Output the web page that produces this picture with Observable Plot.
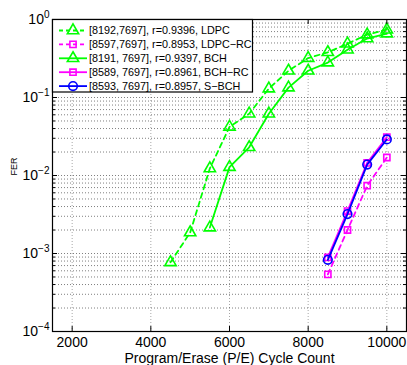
<!DOCTYPE html>
<html><head><meta charset="utf-8">
<script src="https://cdn.jsdelivr.net/npm/d3@7"></script>
<script src="https://cdn.jsdelivr.net/npm/@observablehq/plot@0.6"></script>
<style>body{margin:0;background:#fff;} #chart{width:407px;height:365px;}</style>
</head><body><div id="chart"></div>
<script>
// ---- data ----
const peLdpc = [4500, 5000, 5500, 6000, 6500, 7000, 7500, 8000, 8500, 9000, 9500, 10000];
const ferLdpc = [7.7e-4, 1.86e-3, 1.23e-2, 4.2e-2, 6.2e-2, 0.13, 0.22, 0.32, 0.38, 0.49, 0.64, 0.74];
const peBch = [5500, 6000, 6500, 7000, 7500, 8000, 8500, 9000, 9500, 10000];
const ferBch = [2.15e-3, 1.28e-2, 0.023, 0.062, 0.134, 0.22, 0.28, 0.41, 0.57, 0.66];
const peRc = [8500, 9000, 9500, 10000];
const ferLdpcRc = [5.4e-4, 2.0e-3, 7.4e-3, 0.017];
const ferBchRc = [8.9e-4, 3.5e-3, 0.0145, 0.031];
const ferSbch = [8.3e-4, 3.2e-3, 0.0138, 0.029];
const seriesNames = [
  "[8192,7697], r=0.9396, LDPC",
  "[8597,7697], r=0.8953, LDPC\u2212RC",
  "[8191, 7697], r=0.9397, BCH",
  "[8589, 7697], r=0.8961, BCH\u2212RC",
  "[8593, 7697], r=0.8957, S\u2212BCH"
];
const xTicks = [2000, 4000, 6000, 8000, 10000];
const yMajor = [1e-4, 1e-3, 1e-2, 1e-1, 1];
const yExp = ["\u22124", "\u22123", "\u22122", "\u22121", "0"];
const yMinor = [];
for (const p of [1e-4, 1e-3, 1e-2, 1e-1]) for (const m of [2,3,4,5,6,7,8,9]) yMinor.push(+(m * p).toPrecision(3));
const xLabel = "Program/Erase (P/E) Cycle Count";
const yLabel = "FER";

// ---- styles ----
const GREEN = "#00ff00", MAGENTA = "#ff00ff", BLUE = "#0000ff";
const DASH = "5,4";
const series = [
  {name: seriesNames[0], x: peLdpc, y: ferLdpc, color: GREEN, dash: DASH, symbol: "triangle", r: 4.2},
  {name: seriesNames[1], x: peRc, y: ferLdpcRc, color: MAGENTA, dash: DASH, symbol: "square", r: 3.5},
  {name: seriesNames[2], x: peBch, y: ferBch, color: GREEN, dash: null, symbol: "triangle", r: 4.2},
  {name: seriesNames[3], x: peRc, y: ferBchRc, color: MAGENTA, dash: null, symbol: "square", r: 3.5},
  {name: seriesNames[4], x: peRc, y: ferSbch, color: BLUE, dash: null, symbol: "circle", r: 4.3}
];

const W = 407, H = 365, ML = 52, MR = 1, MT = 19, MB = 34;
const PW = W - ML - MR, PH = H - MT - MB;

const dataMarks = [];
for (const s of series) {
  const rows = s.x.map((v, i) => ({pe: v, fer: s.y[i]}));
  dataMarks.push(Plot.line(rows, {x: "pe", y: "fer", stroke: s.color, strokeWidth: 1.8, strokeDasharray: s.dash || undefined}));
  dataMarks.push(Plot.dot(rows, {x: "pe", y: "fer", symbol: s.symbol, r: s.r, stroke: s.color, strokeWidth: 1.6, fill: "none"}));
}

const grid = {stroke: "#000", strokeDasharray: "1,2"};
const chart = Plot.plot({
  width: W, height: H,
  marginLeft: ML, marginRight: MR, marginTop: MT, marginBottom: MB,
  x: {domain: [1500, 10500], label: null},
  y: {type: "log", domain: [1e-4, 1], label: null},
  style: {fontFamily: "'Liberation Sans', Arial, Helvetica, sans-serif", background: "#fff", color: "#000"},
  marks: [
    Plot.ruleY(yMinor.concat(yMajor), {...grid, strokeOpacity: 0.5}),
    Plot.ruleX(xTicks, {...grid, strokeOpacity: 0.35}),
    ...dataMarks,
    // inward ticks
    Plot.tickX(xTicks, {x: d => d, insetTop: PH - 5, stroke: "#000"}),
    Plot.tickX(xTicks, {x: d => d, insetBottom: PH - 5, stroke: "#000"}),
    Plot.tickY(yMajor, {y: d => d, insetRight: PW - 5, stroke: "#000"}),
    Plot.tickY(yMajor, {y: d => d, insetLeft: PW - 5, stroke: "#000"}),
    Plot.tickY(yMinor, {y: d => d, insetRight: PW - 3, stroke: "#000"}),
    Plot.tickY(yMinor, {y: d => d, insetLeft: PW - 3, stroke: "#000"}),
    Plot.frame({stroke: "#000", strokeWidth: 1.2}),
    Plot.axisX({ticks: xTicks, tickSize: 0, tickPadding: 6, fontSize: 14, label: null, tickFormat: d => String(d)}),
    Plot.axisY({ticks: yMajor, tickSize: 0, tickPadding: 3, fontSize: 14, label: null,
      tickFormat: d => "10^" + yExp[yMajor.findIndex(v => Math.abs(v - d) < d * 1e-6)]}),
    Plot.text([xLabel], {frameAnchor: "bottom", dy: 31, lineAnchor: "bottom", fontSize: 14, text: d => d}),
    Plot.text([yLabel], {frameAnchor: "left", rotate: -90, dx: -36, lineAnchor: "bottom", fontSize: 9, text: d => d})
  ]
});

// superscripts for the log tick labels
d3.select(chart).selectAll('g[aria-label="y-axis tick label"] text').each(function() {
  const t = this.textContent;
  const parts = t.split("^");
  const sel = d3.select(this);
  sel.text(parts[0]);
  sel.append("tspan").attr("dy", "-0.57em").attr("font-size", "10px").text(parts[1]);
});

// legend (inside the plot, top-left)
const symMap = {triangle: d3.symbolTriangle, square: d3.symbolSquare, circle: d3.symbolCircle};
const lg = d3.select(chart).append("g")
  .attr("font-family", "'Liberation Sans', Arial, sans-serif").attr("text-anchor", "start");
lg.append("rect").attr("x", 52.5).attr("y", 19.5).attr("width", 200).attr("height", 72.5)
  .attr("fill", "#fff").attr("stroke", "#000").attr("stroke-width", 1.2);
series.forEach((s, i) => {
  const cy = 30.5 + i * 13.9;
  lg.append("line").attr("x1", 59).attr("x2", 87).attr("y1", cy).attr("y2", cy)
    .attr("stroke", s.color).attr("stroke-width", 1.8).attr("stroke-dasharray", s.dash ? "4,3" : null);
  lg.append("path").attr("d", d3.symbol(symMap[s.symbol], Math.PI * s.r * s.r)())
    .attr("transform", `translate(73,${cy})`).attr("fill", "none").attr("stroke", s.color).attr("stroke-width", 1.6);
  lg.append("text").attr("x", 89).attr("y", cy + 3.9).attr("font-size", 10.8)
    .attr("text-anchor", "start").attr("fill", "#000").text(s.name);
});

document.getElementById("chart").appendChild(chart);
</script>
</body></html>
